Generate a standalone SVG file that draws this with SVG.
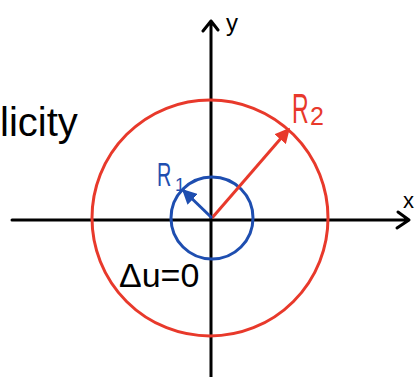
<svg xmlns="http://www.w3.org/2000/svg" width="417" height="377" viewBox="0 0 417 377">
<style>
.ax{stroke:#000;stroke-width:3;fill:none;stroke-linecap:round;stroke-linejoin:round}
.red{stroke:#e8392b;stroke-width:3;fill:none}
.blue{stroke:#1e4eb0;stroke-width:3;fill:none}
.t{font-family:"Liberation Sans",Arial,sans-serif}
</style>
<defs>
<marker id="ar" viewBox="0 0 10 10" refX="9" refY="5" markerWidth="5" markerHeight="5" orient="auto" markerUnits="strokeWidth"><path d="M0,0 L10,5 L0,10 z" fill="#e8392b"/></marker>
<marker id="ab" viewBox="0 0 10 10" refX="9" refY="5" markerWidth="5" markerHeight="5" orient="auto" markerUnits="strokeWidth"><path d="M0,0 L10,5 L0,10 z" fill="#1e4eb0"/></marker>
</defs>
<g id="axes">
<path class="ax" d="M12,220 L409,220 M398,212 L409,220 L397,228"/>
<path class="ax" d="M211,377 L211,21 M203,31 L211,21 L218,30"/>
</g>
<g id="circles">
<circle class="red" cx="210" cy="218" r="118"/>
<circle class="blue" cx="212" cy="218" r="41"/>
</g>
<g id="connectors">
<line class="red" x1="212" y1="218" x2="289" y2="129" marker-end="url(#ar)"/>
<line class="blue" x1="212" y1="218" x2="183" y2="190" marker-end="url(#ab)"/>
</g>
<g id="labels" class="t">
<text x="0" y="136" font-size="40" fill="#000">licity</text>
<text x="226" y="31" font-size="24" fill="#000">y</text>
<text x="403" y="208" font-size="22" fill="#000">x</text>
<text transform="translate(292,123) scale(0.55,1)" font-size="42" fill="#e8392b">R</text>
<text x="310" y="125" font-size="25" fill="#e8392b">2</text>
<text transform="translate(157,186) scale(0.6,1)" font-size="33" fill="#1e4eb0">R</text>
<text x="175" y="191" font-size="18" fill="#1e4eb0">1</text>
<text x="119" y="287" font-size="34" fill="#000">Δu=0</text>
</g>
</svg>
